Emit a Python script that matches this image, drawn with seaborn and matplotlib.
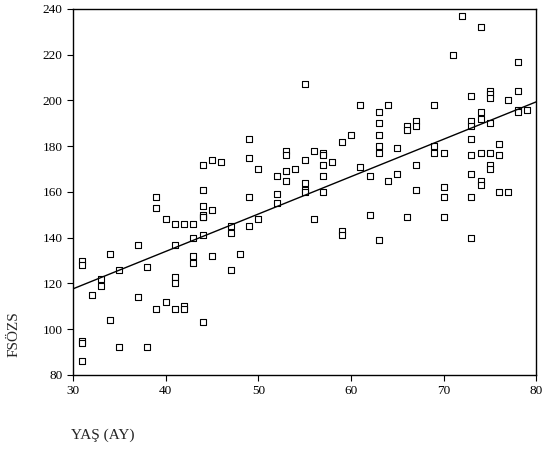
import numpy as np
import pandas as pd
import seaborn as sns
import matplotlib.pyplot as plt

# YAS (AY) ve FSOZS degerleri, yasa gore gruplu
yas = ([31] * 5 + [32] + [33] * 2 + [34] * 2 + [35] * 2 + [37] * 2 + [38] * 2
       + [39] * 3 + [40] * 2 + [41] * 5 + [42] * 3 + [43] * 4 + [44] * 8
       + [45] * 3 + [46] + [47] * 3 + [48] + [49] * 4 + [50] * 2 + [52] * 3
       + [53] * 4 + [54] + [55] * 5 + [56] * 2 + [57] * 5 + [58] + [59] * 3
       + [60] + [61] * 2 + [62] * 2 + [63] * 6 + [64] * 2 + [65] * 2
       + [66] * 3 + [67] * 4 + [69] * 3 + [70] * 4 + [71] + [72] + [73] * 8
       + [74] * 6 + [75] * 7 + [76] * 3 + [77] * 2 + [78] * 4 + [79])

fsozs = [130, 128, 95, 94, 86,
         115,
         122, 119,
         133, 104,
         126, 92,
         137, 114,
         127, 92,
         158, 153, 109,
         148, 112,
         146, 137, 123, 120, 109,
         146, 110, 109,
         146, 140, 132, 129,
         172, 161, 154, 150, 149, 141, 103, 149,
         174, 152, 132,
         173,
         145, 142, 126,
         133,
         183, 175, 158, 145,
         170, 148,
         167, 159, 155,
         178, 176, 169, 165,
         170,
         207, 174, 164, 161, 160,
         178, 148,
         177, 176, 172, 167, 160,
         173,
         182, 143, 141,
         185,
         198, 171,
         167, 150,
         195, 190, 185, 180, 177, 139,
         198, 165,
         179, 168,
         189, 187, 149,
         191, 189, 172, 161,
         198, 180, 177,
         177, 162, 158, 149,
         220,
         237,
         202, 191, 189, 183, 176, 168, 158, 140,
         232, 195, 192, 177, 165, 163,
         204, 203, 201, 190, 177, 172, 170,
         181, 176, 160,
         200, 160,
         217, 204, 196, 195,
         196]

df = pd.DataFrame({'yas': yas, 'fsozs': fsozs})

sns.set_style("ticks")
plt.rcParams['font.family'] = ['Liberation Serif', 'DejaVu Serif']
plt.rcParams['xtick.direction'] = 'out'
plt.rcParams['ytick.direction'] = 'out'

fig = plt.figure(figsize=(5.45, 4.49), dpi=100)
ax = fig.add_axes([0.134, 0.165, 0.850, 0.815])
ax.set_xlim(30, 80)
ax.set_ylim(80, 240)

sns.regplot(x='yas', y='fsozs', data=df, ax=ax, ci=None, truncate=False,
            marker='s',
            scatter_kws={'s': 14, 'facecolors': 'white', 'edgecolors': 'black',
                         'linewidths': 0.8, 'alpha': 1},
            line_kws={'color': 'black', 'lw': 1})

ax.set_xticks(np.arange(30, 81, 10))
ax.set_yticks(np.arange(80, 241, 20))
ax.tick_params(labelsize=9.5, length=4, width=0.8, colors='black')
for s in ax.spines.values():
    s.set_visible(True)
    s.set_color('black')
    s.set_linewidth(1)
ax.set_xlabel('')
ax.set_ylabel('')

fig.text(0.025, 0.255, 'FSÖZS', rotation=90, fontsize=11, ha='center', va='center')
fig.text(0.13, 0.03, 'YAŞ (AY)', fontsize=11, ha='left', va='center')

plt.savefig('out.png')
